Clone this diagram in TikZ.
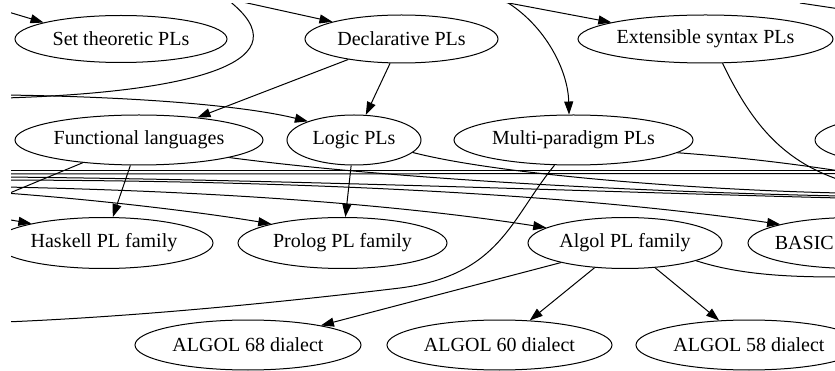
\documentclass[tikz,border=0pt]{standalone}
\usepackage{fontspec}
\setmainfont{Liberation Serif}
\usetikzlibrary{shapes.geometric,arrows.meta}
\begin{document}
\begin{tikzpicture}[x=1pt,y=-1pt,
  pl/.style={ellipse,draw,line width=1pt,inner sep=0pt,font=\fontsize{20}{23}\selectfont},
  edge/.style={line width=1pt},
  arr/.style={edge,-{Triangle[length=13pt,width=9pt]}}]
\useasboundingbox (0,0) rectangle (835,371);
\begin{scope}
\clip (11,4) rectangle (835,371);
% nodes
\node[pl,minimum width=212pt,minimum height=47pt] (set) at (121,39) {Set theoretic PLs};
\node[pl,minimum width=193pt,minimum height=48pt] (decl) at (401.5,39) {Declarative PLs};
\node[pl,minimum width=255pt,minimum height=48pt] (ext) at (705.5,39) {Extensible syntax PLs};
\node[pl,minimum width=248pt,minimum height=50pt] (func) at (139,140) {Functional languages};
\node[pl,minimum width=134pt,minimum height=50pt] (logic) at (354,140) {Logic PLs};
\node[pl,minimum width=239pt,minimum height=50pt] (mp) at (573.5,140) {Multi-paradigm PLs};
\node[pl,minimum width=200pt,minimum height=50pt] (rnode) at (915,140) {};
\node[pl,minimum width=218pt,minimum height=51pt] (hask) at (104,243) {Haskell PL family};
\node[pl,minimum width=209pt,minimum height=51pt] (prolog) at (342.5,243) {Prolog PL family};
\node[pl,minimum width=194pt,minimum height=51pt] (algol) at (625,243) {Algol PL family};
\node[pl,minimum width=214pt,minimum height=51pt] (basic) at (855,243) {};
\node[anchor=east,inner sep=0pt,font=\fontsize{20}{23}\selectfont] (basictext) at (834,243) {BASIC};
\node[pl,minimum width=226pt,minimum height=50pt] (a68) at (248,345) {ALGOL 68 dialect};
\node[pl,minimum width=225pt,minimum height=50pt] (a60) at (499.5,345) {ALGOL 60 dialect};
\node[pl,minimum width=226pt,minimum height=50pt] (a58) at (749,345) {ALGOL 58 dialect};
% free ends
\coordinate (l1) at (5,11);
\coordinate (t1) at (238,1);
\coordinate (t2) at (498,1);
\coordinate (t3) at (505,1);
\coordinate (t4) at (228,0);
\coordinate (t5) at (800,3);
\coordinate (l2) at (5,95);
\coordinate (l3) at (5,219);
\coordinate (l4) at (5,193);
\coordinate (l5) at (5,187);
\coordinate (l6) at (5,180);
\coordinate (l7) at (5,195);
\coordinate (l8) at (5,322);
\coordinate (l9) at (5,171);
\coordinate (l10) at (5,174);
\coordinate (l11) at (5,177);
\coordinate (l12) at (5,98);
\coordinate (r1) at (840,196);
\coordinate (r2) at (840,193);
\coordinate (r3) at (840,171);
\coordinate (r4) at (840,180);
\coordinate (r5) at (840,277);
\coordinate (r6) at (840,9);
\coordinate (r7) at (840,171);
\coordinate (r8) at (840,173.5);
\coordinate (r9) at (840,198);
\coordinate (m1) at (400,288);
% arrows into nodes
\draw[arr] (l1) -- (set.168);
\draw[arr] (t1) -- (decl.166);
\draw[arr] (t2) -- (ext.170);
\draw[arr] (t3) .. controls (545,25) and (568,70) .. (mp.100);
\draw[arr] (decl) -- (func);
\draw[arr] (decl) -- (logic);
\draw[arr] (l2) .. controls (150,97) and (250,107) .. (logic.158);
\draw[arr] (func) -- (hask);
\draw[arr] (logic) -- (prolog);
\draw[arr] (l3) -- (hask.165);
\draw[arr] (l4) .. controls (100,200) and (200,212) .. (prolog.165);
\draw[arr] (l5) .. controls (250,192) and (420,208) .. (algol.169);
\draw[arr] (l6) .. controls (350,181) and (600,198) .. (basic.166);
\draw[arr] (algol) -- (a60);
\draw[arr] (algol) -- (a58);
\draw[arr] (algol.197) -- (a68.15);
% lines leaving the view
\draw[edge] (t4) .. controls (305,60) and (200,92) .. (l12);
\draw[edge] (func.202) -- (l7);
\draw[edge] (func.-11) .. controls (400,180) and (650,192) .. (r1);
\draw[edge] (logic.-12) .. controls (500,175) and (700,190) .. (r2);
\draw[edge] (mp.-7) .. controls (750,158) and (800,165) .. (r3);
\draw[edge] (ext.-55) .. controls (750,120) and (780,160) .. (r4);
\draw[edge] (mp.233) .. controls (510,220) and (500,275) .. (m1) .. controls (300,300) and (150,316) .. (l8);
\draw[edge] (algol.-14) .. controls (740,275) and (790,277) .. (r5);
\draw[edge] (t5) -- (r6);
\draw[edge] (l9) -- (r7);
\draw[edge] (l10) -- (r8);
\draw[edge] (l11) .. controls (300,180) and (600,192) .. (r9);
\end{scope}
\end{tikzpicture}
\end{document}
